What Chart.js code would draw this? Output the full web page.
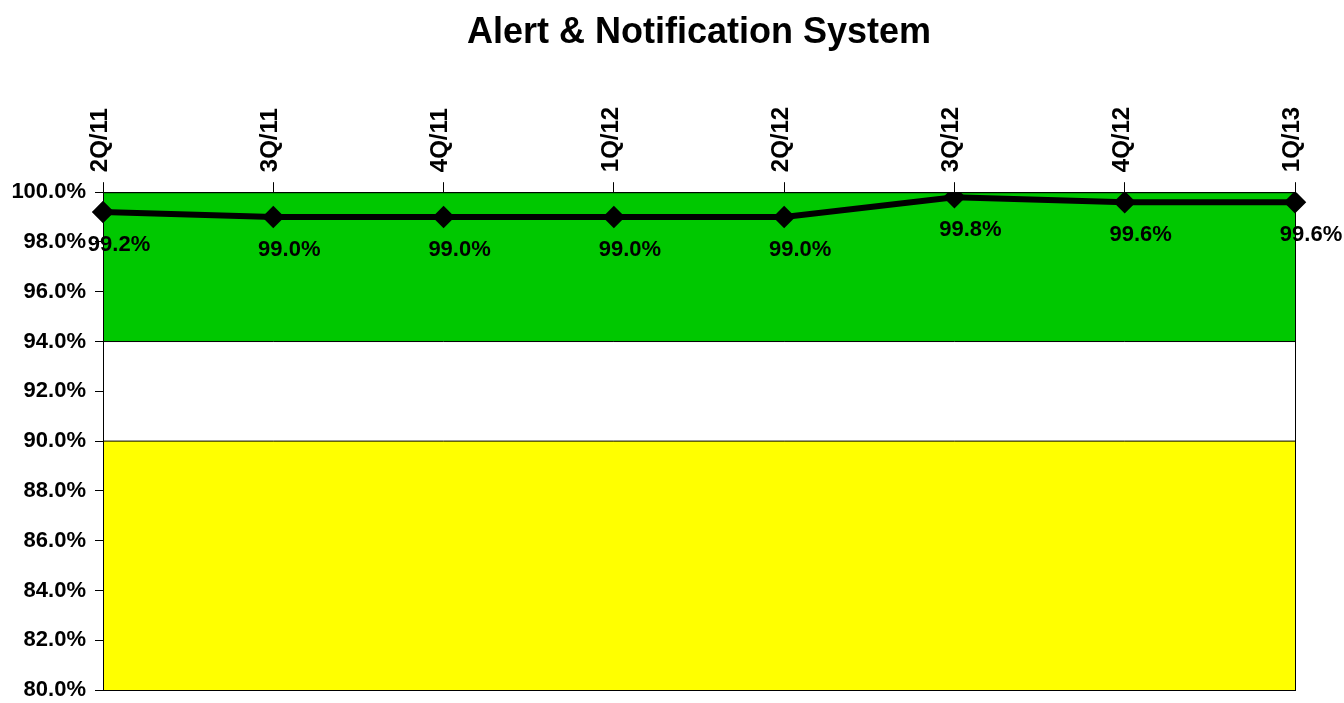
<!DOCTYPE html>
<html>
<head>
<meta charset="utf-8">
<title>Alert & Notification System</title>
<script src="https://cdn.jsdelivr.net/npm/chart.js@4/dist/chart.umd.min.js"></script>
<style>
  html, body { margin: 0; padding: 0; background: #fff; }
  #wrap { width: 1344px; height: 703px; }
</style>
</head>
<body>
<div id="wrap"><canvas id="availChart" width="1344" height="703"></canvas></div>
<script>
// data
const quarters = ['2Q/11', '3Q/11', '4Q/11', '1Q/12', '2Q/12', '3Q/12', '4Q/12', '1Q/13'];
const availability = [99.2, 99.0, 99.0, 99.0, 99.0, 99.8, 99.6, 99.6];
// target bands (green 94-100, white 90-94, yellow 80-90)
const greenTop = [100, 100, 100, 100, 100, 100, 100, 100];
const greenBottom = [94, 94, 94, 94, 94, 94, 94, 94];
const yellowTop = [90, 90, 90, 90, 90, 90, 90, 90];
const yTicks = { min: 80, max: 100, step: 2 };

const FONT = '"Liberation Sans", Arial, sans-serif';

// value labels under each point
const pointLabels = {
    id: 'pointLabels',
    afterDatasetsDraw(chart) {
        const c = chart.ctx;
        const meta = chart.getDatasetMeta(0);
        c.save();
        c.font = 'bold 22px ' + FONT;
        c.fillStyle = '#000';
        c.textAlign = 'center';
        c.textBaseline = 'middle';
        meta.data.forEach((pt, i) => {
            c.fillText(availability[i].toFixed(1) + '%', pt.x + 16, pt.y + 33);
        });
        c.restore();
    }
};

// border round the plot area
const plotFrame = {
    id: 'plotFrame',
    afterDatasetsDraw(chart) {
        const a = chart.chartArea;
        const c = chart.ctx;
        c.save();
        c.strokeStyle = '#000';
        c.lineWidth = 1;
        c.strokeRect(a.left + 0.5, a.top + 0.5, a.right - a.left, a.bottom - a.top);
        c.restore();
    }
};

const bandStyle = { pointRadius: 0, borderColor: '#000', borderWidth: 1, tension: 0 };

const ctx = document.getElementById('availChart').getContext('2d');
const availChart = new Chart(ctx, {
    type: 'line',
    data: {
        labels: quarters,
        datasets: [
            {
                label: 'Availability',
                data: availability,
                borderColor: '#000',
                backgroundColor: '#000',
                borderWidth: 6,
                pointStyle: 'rectRot',
                pointRadius: 7,
                tension: 0,
                fill: false,
                order: 0
            },
            Object.assign({ label: 'green top', data: greenTop, fill: '+1', backgroundColor: '#00c800', order: 2 }, bandStyle),
            Object.assign({ label: 'green bottom', data: greenBottom, fill: false, order: 1 }, bandStyle),
            Object.assign({ label: 'yellow', data: yellowTop, fill: 'start', backgroundColor: '#ffff00', order: 3 }, bandStyle)
        ]
    },
    options: {
        responsive: false,
        animation: false,
        layout: { padding: { left: 0, right: 49, top: 0, bottom: 11 } },
        plugins: {
            legend: { display: false },
            tooltip: { enabled: false },
            title: {
                display: true,
                fullSize: false,
                text: 'Alert & Notification System',
                color: '#000',
                font: { family: FONT, size: 36, weight: 'bold' },
                padding: { top: 11, bottom: 3 }
            }
        },
        scales: {
            x: {
                position: 'top',
                offset: false,
                grid: { drawOnChartArea: false, drawTicks: true, tickLength: 10, color: '#000' },
                border: { display: true, color: '#000' },
                ticks: {
                    color: '#000',
                    font: { family: FONT, size: 24, weight: 'bold' },
                    minRotation: 90,
                    maxRotation: 90,
                    padding: 10,
                    labelOffset: 26,
                    autoSkip: false
                },
                afterFit(scale) { scale.height = 135; }
            },
            y: {
                min: yTicks.min,
                max: yTicks.max,
                grid: { drawOnChartArea: false, drawTicks: true, tickLength: 8, color: '#000' },
                border: { display: true, color: '#000' },
                ticks: {
                    stepSize: yTicks.step,
                    color: '#000',
                    padding: 9,
                    font: { family: FONT, size: 22, weight: 'bold' },
                    callback: v => v.toFixed(1) + '%'
                },
                afterFit(scale) {
                    scale.width = 103;
                    scale.paddingTop = 0;
                    scale.paddingBottom = 0;
                }
            }
        }
    },
    plugins: [plotFrame, pointLabels]
});
</script>
</body>
</html>
